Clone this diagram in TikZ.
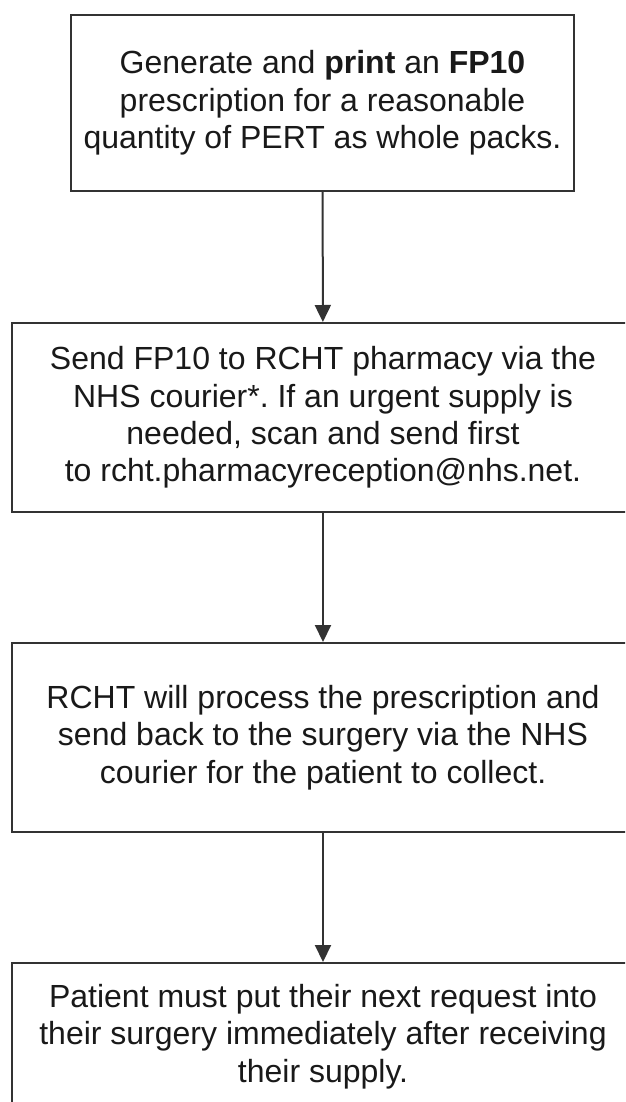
\documentclass[tikz,border=0pt]{standalone}
\usepackage{fontspec}
\setmainfont{Liberation Sans}
\usepackage{tikz}
\usetikzlibrary{arrows.meta}
\frenchspacing

\tikzset{
	stepbox/.style={draw=black!80, line width=1.5pt, fill=white, align=center, text=black!90,
		font=\fontsize{24}{28.1}\selectfont, inner sep=0pt},
	flowarrow/.style={draw=black!80, line width=1.5pt, -{Triangle[width=12pt, length=12.75pt]}}
}

\begin{document}
\begin{tikzpicture}[x=0.75pt, y=-0.75pt]
			%%%%% START %%%%%
			
			\useasboundingbox (0, 0) rectangle (625, 1102);
			\clip (0, 0) rectangle (625, 1102);
			
			\node[stepbox, minimum width=377.25pt, minimum height=132pt] (generate) at (322.5, 103)
				{Generate and \textbf{print} an \textbf{FP10}\\prescription for a reasonable\\quantity of PERT as whole packs.};
			
			\node[stepbox, minimum width=466.5pt, minimum height=141.75pt] (send) at (323, 417.5)
				{Send FP10 to RCHT pharmacy via the\\NHS courier*. If an urgent supply is\\needed, scan and send first\\to rcht.pharmacyreception@nhs.net.};
			
			\node[stepbox, minimum width=466.5pt, minimum height=141.75pt] (process) at (323, 737.5)
				{RCHT will process the prescription and\\send back to the surgery via the NHS\\courier for the patient to collect.};
			
			\node[stepbox, minimum width=466.5pt, minimum height=110.25pt] (request) at (323, 1036.5)
				{Patient must put their next request into\\their surgery immediately after receiving\\their supply.};
			
			\draw[flowarrow] (generate) -- (send);
			\draw[flowarrow] (send) -- (process);
			\draw[flowarrow] (process) -- (request);
			
			%%%%% END %%%%%
\end{tikzpicture}
\end{document}
